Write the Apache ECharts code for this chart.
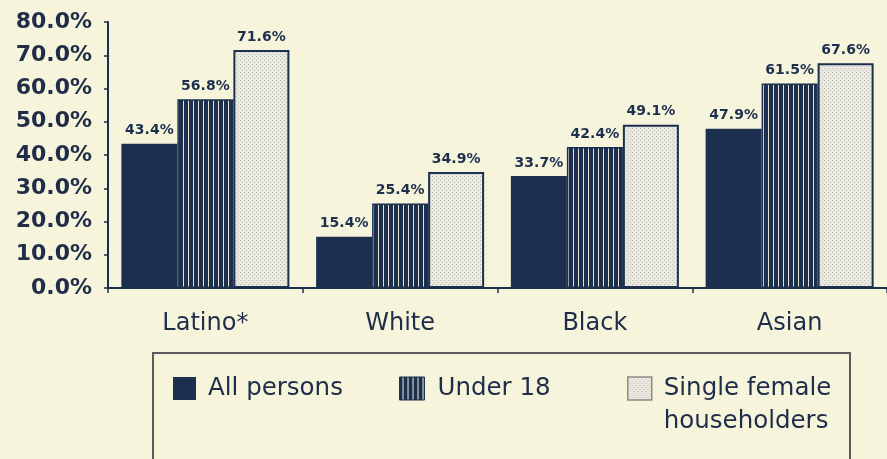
<!DOCTYPE html>
<html>
<head>
<meta charset="utf-8">
<script src="https://cdn.jsdelivr.net/npm/echarts@6/dist/echarts.min.js"></script>
<style>
  html, body { margin: 0; padding: 0; background: #f7f4dc; }
  #chart { width: 887px; height: 459px; }
</style>
</head>
<body>
<div id="chart"></div>
<script>
// Poverty rates by group (percent)
const groups = ['Latino*', 'White', 'Black', 'Asian'];
const seriesNames = ['All persons', 'Under 18', 'Single female householders'];
const allPersons = [43.4, 15.4, 33.7, 47.9];
const under18 = [56.8, 25.4, 42.4, 61.5];
const singleFemale = [71.6, 34.9, 49.1, 67.6];
const yMin = 0, yMax = 80, yStep = 10;

const NAVY = '#1c2f4f';
const PAPER = '#f7f4dc';
const FONT = 'DejaVu Sans';

// Vertical stripe fill for the "Under 18" bars
function stripePattern() {
  const c = document.createElement('canvas');
  c.width = 5; c.height = 4;
  const g = c.getContext('2d');
  g.fillStyle = NAVY; g.fillRect(0, 0, 5, 4);
  g.fillStyle = '#e6e3d2'; g.fillRect(3, 0, 1, 4);
  return c;
}
// Fine grey stipple for the "Single female householders" bars
function stipplePattern() {
  const c = document.createElement('canvas');
  c.width = 4; c.height = 4;
  const g = c.getContext('2d');
  g.fillStyle = '#eae9e0'; g.fillRect(0, 0, 4, 4);
  g.fillStyle = '#bdbcb3';
  g.fillRect(0, 0, 1, 1); g.fillRect(2, 2, 1, 1);
  return c;
}

const valueLabel = {
  show: true, position: 'top', distance: 6,
  formatter: p => p.value.toFixed(1) + '%',
  color: NAVY, fontFamily: FONT, fontWeight: 'bold', fontSize: 14
};

const legendText = { color: '#1e2d4a', fontFamily: FONT, fontSize: 24.5 };

const chart = echarts.init(document.getElementById('chart'), null, { renderer: 'canvas' });
chart.setOption({
  backgroundColor: PAPER,
  animation: false,
  grid: { left: 108, top: 22, width: 790, bottom: 171, containLabel: false },
  xAxis: {
    type: 'category', data: groups,
    axisLine: { lineStyle: { color: NAVY, width: 2 } },
    axisTick: { show: true, length: 5, lineStyle: { color: NAVY, width: 1.5 } },
    axisLabel: { margin: 24, color: '#1e2d4a', fontFamily: FONT, fontSize: 24 }
  },
  yAxis: {
    type: 'value', min: yMin, max: yMax, interval: yStep,
    splitLine: { show: false },
    axisLine: { show: true, lineStyle: { color: NAVY, width: 2 } },
    axisTick: { show: true, length: 4, lineStyle: { color: NAVY, width: 1.5 } },
    axisLabel: {
      margin: 16, color: '#1f2d48', fontFamily: FONT, fontWeight: 'bold', fontSize: 22,
      formatter: v => v.toFixed(1) + '%'
    }
  },
  legend: [
    {
      left: 173, top: 376, padding: 0, selectedMode: false,
      itemWidth: 23, itemHeight: 23, icon: 'rect',
      data: [seriesNames[0]],
      textStyle: Object.assign({ padding: [0, 0, 0, 7] }, legendText)
    },
    {
      left: 399, top: 376, padding: 0, selectedMode: false,
      itemWidth: 25, itemHeight: 23, icon: 'rect',
      data: [{ name: seriesNames[1], itemStyle: { borderWidth: 1, borderColor: NAVY } }],
      textStyle: Object.assign({ padding: [0, 0, 0, 8] }, legendText)
    },
    {
      // blank first line keeps "Single female" level with the swatch
      left: 627, top: 339, padding: 0, selectedMode: false,
      itemWidth: 24, itemHeight: 23, icon: 'rect',
      data: [{ name: seriesNames[2], itemStyle: { borderWidth: 1.5, borderColor: '#8a8a86' } }],
      formatter: () => ' \nSingle female\nhouseholders',
      textStyle: Object.assign({ padding: [0, 0, 0, 7], lineHeight: 33 }, legendText)
    }
  ],
  graphic: [{
    type: 'rect', silent: true,
    shape: { x: 153, y: 353, width: 697, height: 130 },
    style: { fill: 'none', stroke: '#5b5b5b', lineWidth: 2 }
  }],
  series: [
    {
      name: seriesNames[0], type: 'bar', data: allPersons,
      barWidth: 56, barGap: '0%',
      itemStyle: { color: NAVY },
      label: valueLabel
    },
    {
      name: seriesNames[1], type: 'bar', data: under18,
      barWidth: 56, barGap: '0%',
      itemStyle: { color: { image: stripePattern(), repeat: 'repeat' }, borderColor: NAVY, borderWidth: 1.5 },
      label: valueLabel
    },
    {
      name: seriesNames[2], type: 'bar', data: singleFemale,
      barWidth: 56, barGap: '0%',
      itemStyle: { color: { image: stipplePattern(), repeat: 'repeat' }, borderColor: NAVY, borderWidth: 2 },
      label: valueLabel
    }
  ]
});
</script>
</body>
</html>
